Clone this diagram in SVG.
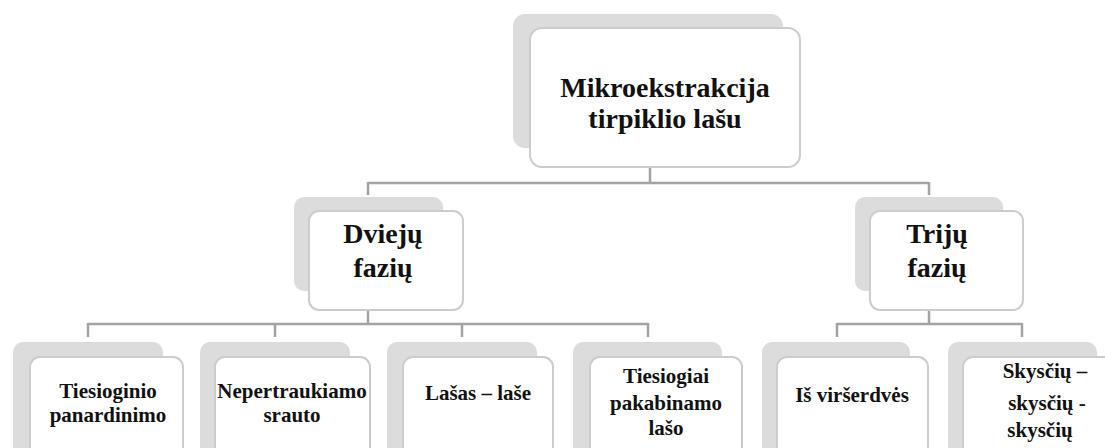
<svg xmlns="http://www.w3.org/2000/svg" width="1105" height="448" viewBox="0 0 1105 448">
<style>
.bk{fill:#dcdcdc;stroke:none}
.fr{fill:#ffffff;stroke:#cccccc;stroke-width:2}
.ln{fill:none;stroke:#a3a3a3;stroke-width:2.5}
text{font-family:"Liberation Serif","Times New Roman",serif;font-weight:bold;fill:#111111;text-anchor:middle}
.t1{font-size:28px}
.t2{font-size:28px}
.t3{font-size:21px}
</style>
<rect width="1105" height="448" fill="#ffffff"/>
<g id="connectors">
<path class="ln" d="M650 167 V183 M368 183 H929 M368 182 V195 M929 182 V195"/>
<path class="ln" d="M368 310 V324 M88 324 H648 M88 323 V337 M275 323 V337 M462 323 V337 M648 323 V337"/>
<path class="ln" d="M929 310 V324 M837 324 H1022 M837 323 V337 M1022 323 V337"/>
</g>
<g id="root">
<rect class="bk" x="513" y="14" width="270" height="134" rx="12"/>
<rect class="fr" x="530" y="28" width="270" height="139" rx="12"/>
<text class="t1" x="665" y="97">Mikroekstrakcija</text>
<text class="t1" x="665" y="128">tirpiklio lašu</text>
</g>
<g id="dvieju">
<rect class="bk" x="294" y="197" width="149" height="94" rx="10"/>
<rect class="fr" x="309" y="211" width="154" height="99" rx="10"/>
<text class="t2" x="383" y="243">Dviejų</text>
<text class="t2" x="383" y="277">fazių</text>
</g>
<g id="triju">
<rect class="bk" x="855" y="197" width="148" height="94" rx="10"/>
<rect class="fr" x="870" y="211" width="153" height="99" rx="10"/>
<text class="t2" x="937" y="243">Trijų</text>
<text class="t2" x="937" y="277">fazių</text>
</g>
<g id="tiesioginio">
<rect class="bk" x="13" y="342" width="150" height="130" rx="10"/>
<rect class="fr" x="30" y="357" width="153" height="130" rx="10"/>
<text class="t3" x="108" y="398">Tiesioginio</text>
<text class="t3" x="108" y="422">panardinimo</text>
</g>
<g id="nepertraukiamo">
<rect class="bk" x="200" y="342" width="150" height="130" rx="10"/>
<rect class="fr" x="215" y="357" width="155" height="130" rx="10"/>
<text class="t3" x="292" y="398">Nepertraukiamo</text>
<text class="t3" x="292" y="422">srauto</text>
</g>
<g id="lasas">
<rect class="bk" x="387" y="342" width="150" height="130" rx="10"/>
<rect class="fr" x="403" y="357" width="150" height="130" rx="10"/>
<text class="t3" x="478" y="400">Lašas – laše</text>
</g>
<g id="pakabinamo">
<rect class="bk" x="573" y="342" width="149" height="130" rx="10"/>
<rect class="fr" x="590" y="357" width="152" height="130" rx="10"/>
<text class="t3" x="666" y="383">Tiesiogiai</text>
<text class="t3" x="666" y="410">pakabinamo</text>
<text class="t3" x="666" y="435">lašo</text>
</g>
<g id="virserdves">
<rect class="bk" x="762" y="342" width="148" height="130" rx="10"/>
<rect class="fr" x="777" y="357" width="151" height="130" rx="10"/>
<text class="t3" x="852" y="402">Iš viršerdvės</text>
</g>
<g id="skysciu">
<rect class="bk" x="948" y="342" width="149" height="130" rx="10"/>
<rect class="fr" x="963" y="357" width="152" height="130" rx="10"/>
<text class="t3" x="1045" y="378">Skysčių –</text>
<text class="t3" x="1047" y="410">skysčių -</text>
<text class="t3" x="1040" y="437">skysčių</text>
</g>
</svg>
